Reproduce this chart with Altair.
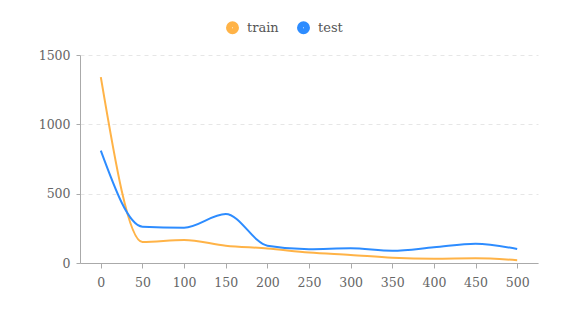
import altair as alt
import pandas as pd

epochs = [0, 50, 100, 150, 200, 250, 300, 350, 400, 450, 500]
train = [1340, 151, 166, 125, 105, 75, 58, 38, 31, 34, 20]
test = [810, 262, 255, 353, 125, 99, 106, 89, 113, 139, 101]
series = ["train", "test"]
colors = ["#FFB347", "#2D8CFF"]

rows = []
for e, a, b in zip(epochs, train, test):
    rows.append({"epoch": e, "series": "train", "value": a})
    rows.append({"epoch": e, "series": "test", "value": b})
df = pd.DataFrame(rows)

font = "DejaVu Serif"

chart = alt.Chart(df).mark_line(interpolate="monotone", strokeWidth=2).encode(
    x=alt.X("epoch:O", sort=epochs,
            scale=alt.Scale(type="point", padding=0.5),
            axis=alt.Axis(title=None, labelAngle=0, grid=False, domainColor="#aaa",
                          tickColor="#aaa", tickSize=5, labelPadding=8,
                          labelFont=font, labelFontSize=12.5, labelColor="#666")),
    y=alt.Y("value:Q", scale=alt.Scale(domain=[0, 1500], nice=False),
            axis=alt.Axis(title=None, values=[0, 500, 1000, 1500], format="d", grid=True,
                          gridDash=[4, 4], gridColor="#e6e6e6", domain=True,
                          domainColor="#aaa", ticks=True, tickSize=4, tickColor="#aaa",
                          labelPadding=6, labelFont=font, labelFontSize=12.5, labelColor="#666")),
    color=alt.Color("series:N", sort=series,
                    scale=alt.Scale(domain=series, range=colors),
                    legend=alt.Legend(title=None, orient="none", legendX=146, legendY=-34,
                                      direction="horizontal", symbolType="circle",
                                      symbolSize=36, symbolStrokeWidth=7, symbolOpacity=1,
                                      labelFont=font, labelFontSize=13, labelColor="#555",
                                      columnPadding=7, labelOffset=8)),
).properties(
    width=458, height=208,
    padding={"left": 72, "top": 47, "right": 20, "bottom": 40},
    autosize=alt.AutoSizeParams(type="none"),
).configure_view(stroke=None)

chart.save("out.html", embed_options={"renderer": "svg", "actions": False})
